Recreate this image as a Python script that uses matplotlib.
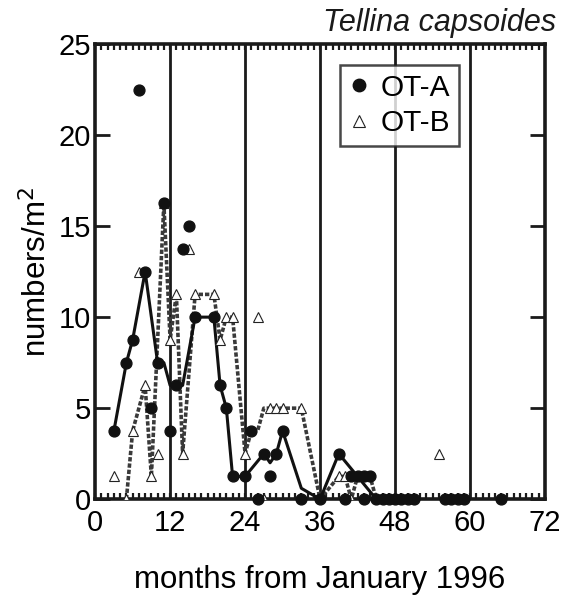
#!/usr/bin/env python3
"""Tellina capsoides densities at OT-A and OT-B, months from January 1996."""

import matplotlib

matplotlib.use("Agg")
import matplotlib.pyplot as plt
from matplotlib.ticker import MultipleLocator

plt.rcParams["font.family"] = ["Liberation Sans", "DejaVu Sans"]

# raw samples (markers)
a_months = [3, 5, 6, 7, 8, 9, 10, 11, 12, 13, 14, 15, 16, 19, 20, 21, 22, 24,
            25, 26, 27, 28, 29, 30, 33, 36, 39, 40, 41, 42, 43, 43, 44,
            45, 46, 47, 48, 49, 50, 51, 56, 57, 58, 59, 65]
a_values = [3.75, 7.5, 8.75, 22.5, 12.5, 5, 7.5, 16.25, 3.75, 6.25, 13.75, 15, 10, 10,
            6.25, 5, 1.25, 1.25, 3.75, 0, 2.5, 1.25, 2.5, 3.75, 0, 0, 2.5, 0, 1.25,
            1.25, 1.25, 0, 1.25, 0, 0, 0, 0, 0, 0, 0, 0, 0, 0, 0, 0]

b_months = [3, 5, 6, 7, 8, 9, 10, 11, 12, 13, 14, 15, 16, 19, 20, 21, 22, 24,
            26, 27, 28, 29, 30, 33, 39, 40, 41, 43, 55]
b_values = [1.25, 0, 3.75, 12.5, 6.25, 1.25, 2.5, 16.25, 8.75, 11.25, 2.5, 13.75,
            11.25, 11.25, 8.75, 10, 10, 2.5, 10, 0, 5, 5, 5, 5, 1.25, 1.25, 0, 1.25,
            2.5]

# connecting lines
a_line_months = [3, 5, 6, 8, 10, 11, 12, 13, 14, 16, 19, 20, 21, 22, 24, 27, 28,
                 29, 30, 33, 36, 39, 45, 51]
a_line_values = [3.75, 7.5, 8.75, 12.5, 7.5, 7.5, 6.25, 6.25, 6.25, 10, 10, 6.25,
                 5, 1.25, 1.25, 2.5, 2.0, 2.5, 3.75, 0.6, 0, 2.5, 0, 0]

b_line_months = [5, 6, 8, 9, 11, 12, 13, 14, 16, 19, 20, 21, 22, 24, 25, 26, 27,
                 28, 29, 30, 33, 36, 39, 40, 41, 42, 44, 45]
b_line_values = [0, 3.75, 6.25, 1.25, 16.25, 8.75, 11.25, 2.5, 11.25, 11.25, 8.75,
                 10, 10, 2.5, 3.75, 3.75, 5, 5, 5, 5, 5, 0, 1.25, 1.25, 0, 1.25,
                 1.25, 0]

year_marks = [12, 24, 36, 48, 60]


def main() -> int:
    fig = plt.figure(figsize=(5.63, 5.95), dpi=100)
    ax = fig.add_axes([0.169, 0.161, 0.799, 0.765])

    for m in year_marks:
        ax.axvline(m, color="#1a1a1a", lw=2.0, zorder=1)

    ax.plot(b_line_months, b_line_values, color="#3a3a3a", lw=2.6,
            linestyle=(0, (1.2, 0.55)), zorder=2)
    ax.plot(a_line_months, a_line_values, color="#111111", lw=2.2, zorder=3)
    ax.plot(b_months, b_values, linestyle="none", marker="^", ms=7.5,
            mfc="white", mec="#222222", mew=0.8, zorder=4, label="OT-B")
    ax.plot(a_months, a_values, linestyle="none", marker="o", ms=7.8,
            mfc="#111111", mec="#111111", zorder=5, label="OT-A", clip_on=False)

    ax.set_xlim(0, 72)
    ax.set_ylim(0, 25)
    ax.xaxis.set_major_locator(MultipleLocator(12))
    ax.xaxis.set_minor_locator(MultipleLocator(1))
    ax.yaxis.set_major_locator(MultipleLocator(5))
    ax.tick_params(axis="x", which="major", direction="in", top=True, bottom=True,
                   length=4.5, width=1.6, labelsize=21, pad=7, color="#1a1a1a")
    ax.tick_params(axis="x", which="minor", direction="in", top=True, bottom=True,
                   length=4.5, width=1.6, color="#1a1a1a")
    ax.tick_params(axis="y", which="major", direction="in", left=True, right=True,
                   length=11, width=2, labelsize=21, pad=3, color="#1a1a1a")
    for spine in ax.spines.values():
        spine.set_linewidth(2.6)
        spine.set_color("#1a1a1a")

    ax.set_xlabel("months from January 1996", fontsize=22.5, labelpad=20)
    ax.set_ylabel("numbers/m$^2$", fontsize=22.5, labelpad=4)

    handles, labels = ax.get_legend_handles_labels()
    leg = ax.legend(handles[::-1], labels[::-1], loc="upper left",
                    bbox_to_anchor=(0.544, 0.954), borderaxespad=0, fontsize=21.5,
                    frameon=True, fancybox=False, handlelength=0.7,
                    handletextpad=0.35, borderpad=0.3, labelspacing=0.25,
                    markerscale=1.15)
    leg.get_frame().set_edgecolor("#1a1a1a")
    leg.get_frame().set_linewidth(1.8)

    fig.text(0.988, 0.962, "Tellina capsoides", ha="right", va="center",
             fontsize=22, style="italic", color="#1a1a1a")

    fig.savefig("out.png", dpi=100)
    plt.close(fig)
    return 0


if __name__ == "__main__":
    raise SystemExit(main())
